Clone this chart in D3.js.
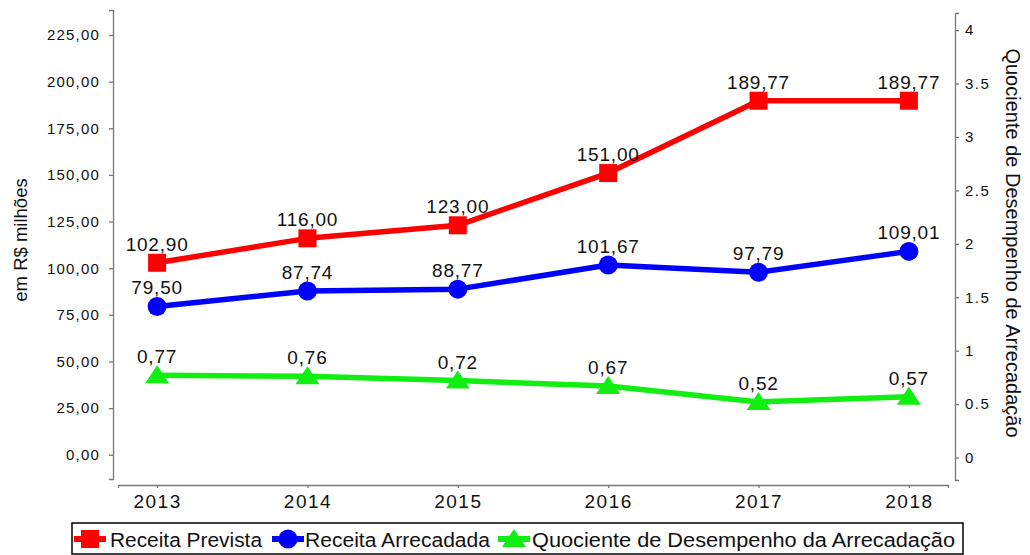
<!DOCTYPE html>
<html>
<head>
<meta charset="utf-8">
<script src="https://cdnjs.cloudflare.com/ajax/libs/d3/7.8.5/d3.min.js"></script>
<style>
  body { margin: 0; background: #fff; }
  text { font-family: "Liberation Sans", Arial, sans-serif; fill: #111; }
</style>
</head>
<body>
<svg id="chart" width="1030" height="555"></svg>
<script>
// data
const years = ["2013", "2014", "2015", "2016", "2017", "2018"];
const receitaPrevista = [102.90, 116.00, 123.00, 151.00, 189.77, 189.77];
const receitaArrecadada = [79.50, 87.74, 88.77, 101.67, 97.79, 109.01];
const quociente = [0.77, 0.76, 0.72, 0.67, 0.52, 0.57];
const leftTicks = [0, 25, 50, 75, 100, 125, 150, 175, 200, 225];
const rightTicks = [0, 0.5, 1, 1.5, 2, 2.5, 3, 3.5, 4];
const seriesNames = ["Receita Prevista", "Receita Arrecadada", "Quociente de Desempenho da Arrecadação"];

const svg = d3.select("#chart");

const x = d3.scalePoint().domain(years).range([118, 948]).padding(0.26);
const yL = d3.scaleLinear().domain([-13, 238.4]).range([479, 10]);
const yR = d3.scaleLinear().domain([-0.21, 4.16]).range([480, 13]);

const fmt = v => v.toFixed(2).replace(".", ",");

// left axis
const gL = svg.append("g").attr("transform", "translate(113,0)")
    .call(d3.axisLeft(yL).tickValues(leftTicks).tickFormat(fmt).tickSizeOuter(0).tickSize(4).tickPadding(9));
gL.selectAll("text").style("font-size", "15px").style("letter-spacing", "1.2px");

// right axis
const gR = svg.append("g").attr("transform", "translate(955,0)")
    .call(d3.axisRight(yR).tickValues(rightTicks).tickFormat(d => String(d)).tickSizeOuter(0).tickSize(4).tickPadding(6));
gR.selectAll("text").style("font-size", "15px").style("letter-spacing", "1.5px");

// x axis
const gX = svg.append("g").attr("transform", "translate(0,485)")
    .call(d3.axisBottom(x).tickSizeOuter(0).tickSize(3).tickPadding(7));
gX.selectAll("text").style("font-size", "19px").style("letter-spacing", "1.5px");

svg.selectAll(".domain, .tick line").attr("stroke", "#777").attr("stroke-width", 1.3);
svg.selectAll(".tick text").attr("fill", "#222");

// axis titles
svg.append("text")
    .attr("transform", "translate(27,240) rotate(-90)")
    .attr("text-anchor", "middle")
    .style("font-size", "18.5px")
    .text("em R$ milhões");

svg.append("text")
    .attr("transform", "translate(1006,243) rotate(90)")
    .attr("text-anchor", "middle")
    .style("font-size", "20px")
    .text("Quociente de Desempenho de Arrecadação");

// lines
const series = [
  { values: receitaPrevista, y: yL, color: "#ff0000", shape: "square" },
  { values: receitaArrecadada, y: yL, color: "#0000ff", shape: "circle" },
  { values: quociente, y: yR, color: "#11ee11", shape: "triangle" }
];

function drawMarker(g, shape, color) {
  if (shape === "square") {
    g.append("rect").attr("x", -9).attr("y", -9).attr("width", 18).attr("height", 18).attr("fill", color);
  } else if (shape === "circle") {
    g.append("circle").attr("r", 9.5).attr("fill", color);
  } else {
    g.append("path").attr("d", "M0,-10L12,8L-12,8Z").attr("fill", color);
  }
}

series.forEach(s => {
  const line = d3.line().x((d, i) => x(years[i])).y(d => s.y(d));
  svg.append("path").datum(s.values)
      .attr("d", line)
      .attr("fill", "none")
      .attr("stroke", s.color)
      .attr("stroke-width", 5.5)
      .attr("stroke-linejoin", "round");

  s.values.forEach((v, i) => {
    const g = svg.append("g").attr("transform", `translate(${x(years[i])},${s.y(v)})`);
    drawMarker(g, s.shape, s.color);
  });
});

// data labels
series.forEach(s => {
  svg.append("g").selectAll("text").data(s.values).join("text")
      .attr("x", (d, i) => x(years[i]))
      .attr("y", d => s.y(d) - 12)
      .attr("text-anchor", "middle")
      .style("font-size", "19px")
      .style("letter-spacing", "0.8px")
      .text(d => fmt(d));
});

// legend
const leg = svg.append("g");
leg.append("rect").attr("x", 72).attr("y", 523).attr("width", 891).attr("height", 31)
    .attr("fill", "none").attr("stroke", "#000").attr("stroke-width", 1.5);

const legItems = [
  { name: seriesNames[0], mx: 90, tx: 110, len: 152 },
  { name: seriesNames[1], mx: 288, tx: 305, len: 185 },
  { name: seriesNames[2], mx: 514, tx: 532, len: 423 }
];
legItems.forEach((it, i) => {
  const g = leg.append("g").attr("transform", `translate(${it.mx},539)`);
  g.append("line").attr("x1", -16).attr("x2", 16).attr("stroke", series[i].color).attr("stroke-width", 6);
  drawMarker(g, series[i].shape, series[i].color);
  leg.append("text").attr("x", it.tx).attr("y", 547)
      .attr("textLength", it.len).attr("lengthAdjust", "spacingAndGlyphs")
      .style("font-size", "20px")
      .text(it.name);
});
</script>
</body>
</html>
